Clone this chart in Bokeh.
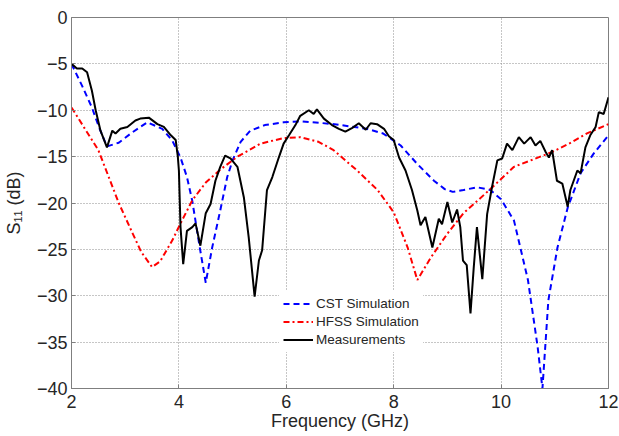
from bokeh.plotting import figure
from bokeh.embed import file_html
from bokeh.resources import INLINE
from bokeh.models import FixedTicker

# ---- data ----
cst_f = [2.0, 2.2, 2.38, 2.51, 2.66, 2.88, 3.13, 3.41, 3.69, 3.88, 4.03, 4.15, 4.25, 4.38,
         4.5, 4.62, 4.77, 4.9, 5.0, 5.15, 5.33, 5.6, 5.95, 6.3, 6.9, 7.5, 7.8, 8.13, 8.44,
         8.75, 8.95, 9.1, 9.3, 9.55, 9.8, 10.0, 10.24, 10.5, 10.68, 10.77, 10.88, 11.05,
         11.24, 11.48, 11.72, 12.0]
cst_db = [-5.0, -7.4, -9.7, -11.8, -13.9, -13.5, -12.4, -11.3, -12.0, -13.3, -15.1, -17.2,
          -19.8, -24.5, -28.6, -24.8, -20.8, -17.2, -15.4, -13.4, -12.2, -11.6, -11.3, -11.2,
          -11.5, -12.0, -12.5, -13.8, -15.8, -17.6, -18.5, -18.8, -18.6, -18.3, -18.6, -19.6,
          -21.9, -28.3, -35.5, -40.0, -30.5, -24.8, -20.5, -16.8, -14.7, -12.7]

hfss_f = [2.0, 2.25, 2.5, 2.88, 3.14, 3.3, 3.5, 3.65, 3.88, 4.03, 4.25, 4.5, 4.77, 5.09,
          5.52, 5.95, 6.26, 6.6, 6.88, 7.32, 7.7, 8.0, 8.26, 8.44, 8.69, 9.0, 9.3, 9.55,
          9.8, 10.24, 10.6, 10.95, 11.3, 11.6, 12.0]
hfss_db = [-9.7, -12.0, -14.3, -20.0, -23.3, -25.3, -26.9, -26.3, -24.0, -22.2, -19.7,
           -17.8, -16.4, -15.0, -13.6, -13.0, -12.9, -13.4, -14.3, -16.5, -18.6, -21.0,
           -24.8, -28.3, -25.9, -23.3, -21.1, -19.8, -18.5, -16.1, -15.3, -14.5, -13.5,
           -12.5, -11.5]

meas_f = [2.0, 2.1, 2.2, 2.29, 2.38, 2.45, 2.54, 2.66, 2.76, 2.82, 2.91, 3.04, 3.19, 3.28,
          3.44, 3.6, 3.72, 3.85, 3.94, 3.98, 4.0, 4.03, 4.08, 4.15, 4.25, 4.31, 4.4, 4.5,
          4.59, 4.68, 4.77, 4.86, 4.96, 5.09, 5.21, 5.3, 5.41, 5.49, 5.55, 5.64, 5.74,
          5.86, 5.95, 6.05, 6.17, 6.26, 6.42, 6.51, 6.57, 6.7, 6.85, 6.98, 7.1, 7.23, 7.35,
          7.48, 7.57, 7.69, 7.82, 7.91, 8.0, 8.1, 8.22, 8.34, 8.44, 8.5, 8.59, 8.72, 8.84,
          8.9, 9.0, 9.09, 9.18, 9.24, 9.29, 9.36, 9.43, 9.49, 9.55, 9.65, 9.74, 9.83, 9.93,
          10.02, 10.11, 10.21, 10.33, 10.43, 10.55, 10.64, 10.73, 10.83, 10.89, 10.95,
          11.04, 11.14, 11.24, 11.29, 11.42, 11.48, 11.57, 11.66, 11.76, 11.82, 11.91, 12.0]
meas_db = [-5.0, -5.5, -5.5, -5.9, -7.9, -10.0, -12.2, -14.0, -12.2, -12.5, -12.0, -11.8,
           -11.1, -10.9, -10.8, -11.5, -11.8, -12.7, -13.2, -15.0, -16.5, -22.6, -26.6,
           -23.0, -22.6, -22.2, -24.6, -21.1, -20.1, -17.6, -16.1, -14.9, -15.2, -16.1,
           -19.4, -23.7, -30.1, -26.2, -25.1, -18.6, -17.2, -15.1, -13.6, -12.7, -11.6,
           -10.6, -10.0, -10.4, -9.9, -10.9, -11.6, -12.0, -12.3, -11.9, -11.4, -12.1,
           -11.4, -11.5, -12.0, -12.8, -13.2, -15.1, -16.5, -18.6, -20.8, -22.4, -21.5,
           -24.8, -21.7, -22.3, -19.9, -22.1, -20.7, -22.6, -26.2, -26.7, -31.9, -27.0,
           -22.6, -28.2, -21.2, -18.3, -15.4, -15.2, -13.6, -14.3, -12.9, -13.6, -12.9,
           -13.8, -13.3, -14.5, -15.1, -14.3, -17.6, -17.9, -20.4, -18.6, -16.5, -16.8,
           -14.0, -12.7, -11.8, -10.2, -10.4, -8.6]

x_ticks = [2, 4, 6, 8, 10, 12]
y_ticks = [0, -5, -10, -15, -20, -25, -30, -35, -40]
series_names = ["CST Simulation", "HFSS Simulation", "Measurements"]

FONT = "Liberation Sans"
TXT = "#262626"
GRID = "#8c8c8c"

p = figure(width=619, height=436, x_range=(2, 12), y_range=(-40, 0),
           output_backend="svg", toolbar_location=None,
           min_border_left=71, min_border_right=11, min_border_top=17, min_border_bottom=48)
p.background_fill_color = "white"
p.border_fill_color = "white"
p.outline_line_color = "#7f7f7f"
p.outline_line_width = 1

p.line(cst_f, cst_db, line_color="#0000ff", line_width=2, line_dash="6 4",
       legend_label=series_names[0])
p.line(hfss_f, hfss_db, line_color="#ff0000", line_width=2, line_dash="6 3 2 3",
       legend_label=series_names[1])
p.line(meas_f, meas_db, line_color="#000000", line_width=2,
       legend_label=series_names[2])

for ax, ticks in ((p.xaxis, x_ticks), (p.yaxis, y_ticks)):
    ax.ticker = FixedTicker(ticks=ticks)
    ax.major_tick_in = 4
    ax.major_tick_out = 0
    ax.minor_tick_line_color = None
    ax.axis_line_color = "#7f7f7f"
    ax.major_tick_line_color = "#7f7f7f"
    ax.major_label_text_font = FONT
    ax.major_label_text_font_size = "18px"
    ax.major_label_text_color = TXT
    ax.axis_label_text_font = FONT
    ax.axis_label_text_font_size = "18px"
    ax.axis_label_text_font_style = "normal"
    ax.axis_label_text_color = TXT

p.xaxis.axis_label = "Frequency (GHz)"
p.yaxis.axis_label = "S\u2081\u2081 (dB)"
p.xaxis.major_label_standoff = 6
p.xaxis.axis_label_standoff = 0
p.yaxis.major_label_standoff = 4
p.yaxis.axis_label_standoff = 10

for g in (p.xgrid, p.ygrid):
    g.grid_line_color = GRID
    g.grid_line_dash = "1 2"
    g.grid_line_width = 1

lg = p.legend[0]
lg.location = (208, 36)
lg.background_fill_color = "white"
lg.background_fill_alpha = 1.0
lg.border_line_alpha = 0
lg.label_text_font = FONT
lg.label_text_font_size = "13.5px"
lg.label_text_color = TXT
lg.glyph_width = 30
lg.glyph_height = 17
lg.label_standoff = 3
lg.spacing = 1
lg.padding = 4
lg.margin = 0
lg.label_height = 17

open("out.html", "w").write(file_html(p, INLINE))
